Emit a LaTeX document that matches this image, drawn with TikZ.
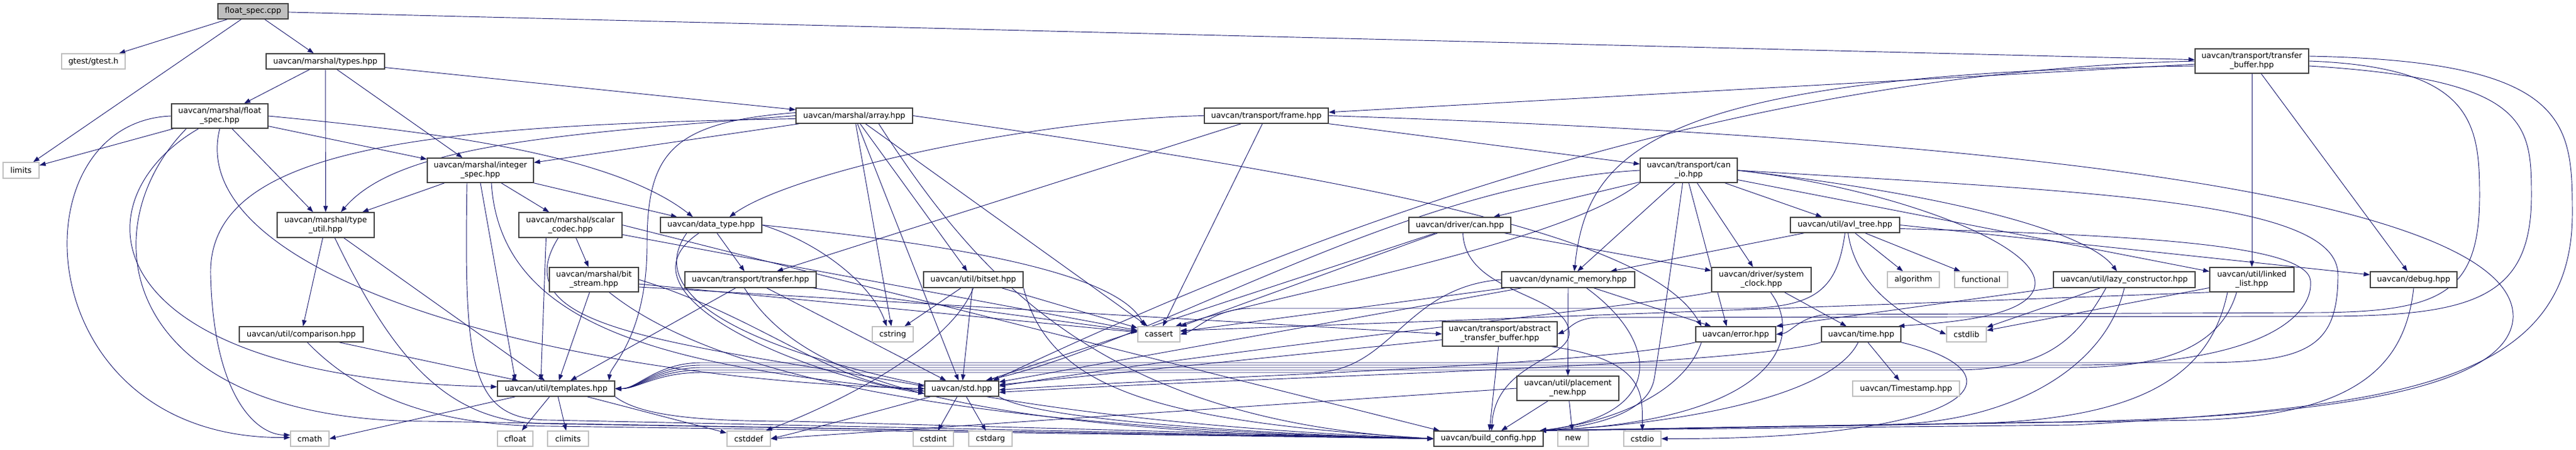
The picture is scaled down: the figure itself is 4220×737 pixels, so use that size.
\documentclass[tikz,border=0pt]{standalone}
\usepackage{fontspec}
\setmainfont{DejaVu Sans}
\usetikzlibrary{arrows.meta,calc}
\definecolor{edgec}{HTML}{191970}
\definecolor{grayb}{HTML}{BFBFBF}
\definecolor{darkb}{HTML}{404040}
\definecolor{cppfill}{HTML}{BFBFBF}
\pgfdeclarelayer{bg}
\pgfdeclarelayer{paper}
\pgfsetlayers{paper,bg,main}
\tikzset{
  nb/.style={draw=darkb,line width=1.1pt,fill=white,inner sep=0pt,align=center,font=\fontsize{9.6}{11.25}\selectfont},
  xb/.style={nb,draw=grayb},
  sz/.style 2 args={minimum width=#1*0.75pt,minimum height=#2*0.75pt},
  e/.style={draw=edgec,line width=0.7pt,line join=round,-{Triangle[length=7.5pt,width=5.5pt]}}
}
\begin{document}
\begin{tikzpicture}[x=0.75pt,y=-0.75pt]
\path[use as bounding box] (0,0) rectangle (4220,737);
\begin{pgfonlayer}{paper}
\fill[white] (0,0) rectangle (4220,737);
\end{pgfonlayer}
% nodes
\node[nb,sz={115}{25},fill=cppfill] (cpp) at (414.5,18.5) {float\_spec.cpp};
\node[xb,sz={104}{25}] (gtest) at (153,100.5) {gtest/gtest.h};
\node[nb,sz={194}{25}] (types) at (533,100.5) {uavcan/marshal/types.hpp};
\node[nb,sz={158}{40}] (fspec) at (360,190) {uavcan/marshal/float\\\_spec.hpp};
\node[xb,sz={59}{26}] (limits) at (34.5,279) {limits};
\node[nb,sz={159}{41}] (tutil) at (533.5,368.5) {uavcan/marshal/type\\\_util.hpp};
\node[nb,sz={203}{25}] (comp) at (493.5,547.5) {uavcan/util/comparison.hpp};
\node[xb,sz={63}{25}] (cmath) at (507.5,718.5) {cmath};
\node[nb,sz={174}{40}] (ispec) at (787,279) {uavcan/marshal/integer\\\_spec.hpp};
\node[nb,sz={169}{41}] (scodec) at (934.5,368.5) {uavcan/marshal/scalar\\\_codec.hpp};
\node[nb,sz={166}{25}] (dtype) at (1165,368.5) {uavcan/data\_type.hpp};
\node[nb,sz={191}{25}] (array) at (1399.5,189.5) {uavcan/marshal/array.hpp};
\node[nb,sz={146}{40}] (bstream) at (973,458) {uavcan/marshal/bit\\\_stream.hpp};
\node[nb,sz={215}{26}] (transfer) at (1229.5,458) {uavcan/transport/transfer.hpp};
\node[nb,sz={192}{25}] (templ) at (911,636.5) {uavcan/util/templates.hpp};
\node[xb,sz={58}{25}] (cfloat) at (844,718.5) {cfloat};
\node[xb,sz={67}{25}] (climits) at (930.5,718.5) {climits};
\node[xb,sz={71}{25}] (cstddef) at (1226.5,718.5) {cstddef};
\node[nb,sz={203}{25}] (frame) at (2074.5,189.5) {uavcan/transport/frame.hpp};
\node[nb,sz={163}{26}] (bitset) at (1594.5,458) {uavcan/util/bitset.hpp};
\node[xb,sz={67}{25}] (cstring) at (1462.5,547.5) {cstring};
\node[xb,sz={69}{25}] (cassert) at (1898.5,547.5) {cassert};
\node[nb,sz={121}{25}] (std) at (1575.5,636.5) {uavcan/std.hpp};
\node[xb,sz={66}{25}] (cstdint) at (1529,718.5) {cstdint};
\node[xb,sz={71}{25}] (cstdarg) at (1622.5,718.5) {cstdarg};
\node[nb,sz={159}{40}] (canio) at (2766.5,279) {uavcan/transport/can\\\_io.hpp};
\node[nb,sz={167}{25}] (drvcan) at (2391.5,368.5) {uavcan/driver/can.hpp};
\node[nb,sz={218}{26}] (dynmem) at (2569,458) {uavcan/dynamic\_memory.hpp};
\node[nb,sz={188}{40}] (abuf) at (2457,547) {uavcan/transport/abstract\\\_transfer\_buffer.hpp};
\node[nb,sz={167}{40}] (placement) at (2568.5,636) {uavcan/util/placement\\\_new.hpp};
\node[nb,sz={179}{25}] (bcfg) at (2438.5,718.5) {uavcan/build\_config.hpp};
\node[xb,sz={50}{25}] (new) at (2577,718.5) {new};
\node[xb,sz={61}{25}] (cstdio) at (2690.5,718.5) {cstdio};
\node[nb,sz={163}{40}] (sysclk) at (2885.5,458) {uavcan/driver/system\\\_clock.hpp};
\node[nb,sz={131}{25}] (error) at (2843.5,547.5) {uavcan/error.hpp};
\node[nb,sz={179}{25}] (avl) at (3022.5,368.5) {uavcan/util/avl\_tree.hpp};
\node[xb,sz={85}{26}] (algorithm) at (3134.5,458) {algorithm};
\node[xb,sz={87}{26}] (functional) at (3245.5,458) {functional};
\node[nb,sz={232}{26}] (lazy) at (3480,458) {uavcan/util/lazy\_constructor.hpp};
\node[nb,sz={130}{25}] (time) at (3049,547.5) {uavcan/time.hpp};
\node[xb,sz={65}{25}] (cstdlib) at (3221.5,547.5) {cstdlib};
\node[xb,sz={175}{25}] (ts) at (3122.5,636.5) {uavcan/Timestamp.hpp};
\node[nb,sz={186}{40}] (tbuf) at (3689,100) {uavcan/transport/transfer\\\_buffer.hpp};
\node[nb,sz={138}{40}] (llist) at (3689,458) {uavcan/util/linked\\\_list.hpp};
\node[nb,sz={142}{26}] (debug) at (3954,458) {uavcan/debug.hpp};
\coordinate (bne) at ($(bcfg.north east)+(-6,0)$);
\begin{pgfonlayer}{bg}
% float_spec.cpp
\draw[e] (cpp) -- (gtest);
\draw[e] (cpp) -- (limits);
\draw[e] (cpp) -- (types);
\draw[e] (cpp) -- (tbuf);
% types
\draw[e] (types) -- (fspec);
\draw[e] (types) -- (tutil);
\draw[e] (types) -- (ispec);
\draw[e] (types) -- (array);
% float_spec.hpp
\draw[e] (fspec) -- (limits);
\draw[e] (fspec.west) .. controls (20,200) and (40,720) .. ($(cmath.west)+(0,-2)$);
\draw[e] ($(fspec.south west)+(45,0)$) .. controls (120,330) and (150,620) .. ($(templ.west)+(0,-3)$);
\draw[e] ($(fspec.south west)+(25,0)$) .. controls (140,380) and (200,690) .. (700,690) -- (bcfg.west);
\draw[e] (fspec.south) .. controls (300,450) and (900,620) .. (std.west);
\draw[e] (fspec) -- (tutil);
\draw[e] (fspec) -- (ispec);
\draw[e] (fspec.east) .. controls (700,215) and (1000,250) .. ($(dtype.north)+(-30,0)$);
% integer_spec
\draw[e] (ispec) -- (tutil);
\draw[e] (ispec) -- (scodec);
\draw[e] (ispec) -- (dtype);
\draw[e] (ispec.south) -- ($(templ.north west)+(30,0)$);
\draw[e] ($(ispec.south)+(18,0)$) .. controls (820,540) and (1100,600) .. ($(std.west)+(0,4)$);
\draw[e] ($(ispec.south)+(-22,0)$) .. controls (760,600) and (770,688) .. (900,688) -- (bcfg.west);
% type_util
\draw[e] (tutil) -- (comp);
\draw[e] (tutil) -- (templ);
\draw[e] ($(tutil.south)+(15,0)$) .. controls (650,600) and (740,694) .. (900,694) -- (bcfg.west);
% comparison
\draw[e] (comp) -- (templ);
\draw[e] ($(comp.south)+(10,0)$) .. controls (580,640) and (700,698) .. (900,698) -- (bcfg.west);
% scalar_codec
\draw[e] (scodec) -- (bstream);
\draw[e] ($(scodec.south)+(-40,0)$) -- ($(templ.north)+(-25,0)$);
\draw[e] ($(scodec.south)+(-20,0)$) .. controls (820,540) and (1100,560) .. ($(std.west)+(0,-4)$);
\draw[e] (scodec) -- (cassert);
\draw[e] (scodec.east) -- ($(bcfg.north west)+(10,0)$);
% bit_stream
\draw[e] (bstream) -- (templ);
\draw[e] (bstream) -- (cassert);
\draw[e] ($(bstream.east)+(0,12)$) -- (abuf.west);
\draw[e] ($(bstream.south)+(25,0)$) .. controls (1150,600) and (1500,700) .. (bcfg.west);
\draw[e] (bstream.east) .. controls (1250,520) and (1380,640) .. (std.west);
% data_type
\draw[e] (dtype) -- (transfer);
\draw[e] (dtype.east) .. controls (1450,390) and (1820,430) .. ($(cassert.north west)+(12,0)$);
\draw[e] (dtype.east) .. controls (1350,400) and (1430,470) .. ($(cstring.north)+(-10,0)$);
\draw[e] ($(dtype.south)+(-20,0)$) .. controls (1000,480) and (1300,610) .. ($(std.west)+(0,8)$);
\draw[e] ($(dtype.south)+(-40,0)$) .. controls (1000,560) and (1600,690) .. (bcfg.west);
% transfer
\draw[e] (transfer) -- (templ);
\draw[e] (transfer) -- (cassert);
\draw[e] (transfer) -- (std);
\draw[e] ($(transfer.south)+(-10,0)$) .. controls (1300,600) and (1500,710) .. (bcfg.west);
% array
\draw[e] (array) -- (ispec);
\draw[e] (array.west) .. controls (900,220) and (650,240) .. ($(tutil.north)+(25,0)$);
\draw[e] ($(array.west)+(0,5)$) .. controls (700,205) and (340,240) .. (345,450) .. controls (350,650) and (420,712) .. ($(cmath.west)+(0,-6)$);
\draw[e] ($(array.west)+(0,-5)$) .. controls (1100,200) and (1060,250) .. (1060,400) .. controls (1060,550) and (1000,600) .. ($(templ.north east)+(-10,0)$);
\draw[e] (array) -- (cstring);
\draw[e] (array) -- (bitset);
\draw[e] (array) -- (std);
\draw[e] (array) -- (cassert);
\draw[e] (array.east) .. controls (2200,290) and (2700,380) .. ($(error.north west)+(10,0)$);
\draw[e] ($(array.south)+(40,0)$) .. controls (1600,450) and (1800,690) .. (bcfg.west);
% bitset
\draw[e] (bitset) -- (cstring);
\draw[e] (bitset) -- (cassert);
\draw[e] (bitset) -- (std);
\draw[e] (bitset.south) .. controls (1560,560) and (1400,650) .. ($(cstddef.north east)+(-8,0)$);
\draw[e] (bitset.south east) .. controls (1720,640) and (1900,690) .. (bcfg.west);
% templates
\draw[e] (templ) -- (cfloat);
\draw[e] (templ) -- (climits);
\draw[e] (templ) -- (cstddef);
\draw[e] ($(templ.south west)+(30,0)$) -- (cmath.east);
\draw[e] (templ.south east) .. controls (1050,682) and (1150,690) .. (1300,690) -- (bcfg.west);
% std
\draw[e] (std) -- (cstdint);
\draw[e] (std) -- (cstdarg);
\draw[e] ($(std.south west)+(10,0)$) .. controls (1450,670) and (1320,705) .. (cstddef.east);
\draw[e] (std.south east) .. controls (1700,690) and (2100,712) .. (bcfg.west);
% frame
\draw[e] (frame.west) .. controls (1700,195) and (1300,280) .. ($(dtype.north)+(30,0)$);
\draw[e] (frame) -- (transfer);
\draw[e] (frame) -- (cassert);
\draw[e] (frame) -- (canio);
\draw[e] (frame.east) .. controls (3700,240) and (4120,380) .. (4117,520) .. controls (4110,640) and (3800,688) .. (3300,692) -- (bne);
% transfer_buffer
\draw[e] (tbuf) -- (frame);
\draw[e] (tbuf) -- (llist);
\draw[e] (tbuf) -- (debug);
\draw[e] ($(tbuf.west)+(0,8)$) .. controls (2700,120) and (2600,250) .. ($(dynmem.north)+(10,0)$);
\draw[e] (tbuf.west) .. controls (2800,120) and (2100,400) .. ($(std.north east)+(-10,0)$);
\draw[e] (tbuf.east) .. controls (4050,110) and (4062,200) .. (4062,320) .. controls (4062,480) and (4000,510) .. (3800,512) -- (3000,515) .. controls (2950,515) and (2935,545) .. (error.east);
\draw[e] ($(tbuf.east)+(0,8)$) .. controls (4140,130) and (4147,200) .. (4147,320) .. controls (4147,490) and (4050,518) .. (3800,518) -- (2620,520) .. controls (2580,520) and (2570,540) .. (abuf.east);
\draw[e] ($(tbuf.east)+(0,-8)$) .. controls (4210,100) and (4214,200) .. (4214,350) .. controls (4214,640) and (3900,665) .. (3400,696) -- (bne);
% can_io
\draw[e] (canio) -- (drvcan);
\draw[e] (canio) -- (avl);
\draw[e] (canio) -- (dynmem);
\draw[e] (canio) -- (sysclk);
\draw[e] (canio.south) -- ($(error.north)+(-15,0)$);
\draw[e] (canio.east) .. controls (3120,310) and (3400,420) .. (3320,490) .. controls (3280,525) and (3160,530) .. ($(time.north east)+(-5,0)$);
\draw[e] (canio) -- (llist);
\draw[e] (canio.east) .. controls (3200,320) and (3420,380) .. ($(lazy.north)+(-12,0)$);
\draw[e] (canio.south west) .. controls (2560,400) and (2100,480) .. ($(cassert.north east)+(-8,0)$);
\draw[e] (canio.west) .. controls (2300,300) and (1900,560) .. ($(std.north east)+(-22,0)$);
\draw[e] (canio.east) .. controls (3450,315) and (3830,330) .. (3830,450) .. controls (3830,570) and (3780,594) .. (3600,594) -- (1150,594) .. controls (1075,594) and (1045,637) .. (templ.east);
\draw[e] ($(canio.south)+(-10,0)$) .. controls (2740,420) and (2720,560) .. (2710,620) .. controls (2700,680) and (2600,700) .. (bne);
% driver/can
\draw[e] (drvcan) -- (sysclk);
\draw[e] (drvcan) -- (cassert);
\draw[e] (drvcan) -- (std);
\draw[e] ($(drvcan.south)+(5,0)$) .. controls (2400,480) and (2560,480) .. (2570,540) .. controls (2580,590) and (2450,590) .. ($(bcfg.north)+(5,0)$);
% system_clock
\draw[e] (sysclk) -- (time);
\draw[e] (sysclk.south west) .. controls (2700,500) and (2100,560) .. ($(std.east)+(0,-4)$);
\draw[e] ($(sysclk.south)+(15,0)$) .. controls (2960,560) and (2900,690) .. (bne);
% time
\draw[e] (time) -- (ts);
\draw[e] (time.south west) .. controls (2850,600) and (2100,615) .. ($(std.east)+(0,6)$);
\draw[e] ($(time.south)+(-5,0)$) .. controls (3000,650) and (2750,695) .. (bne);
\draw[e] (time.south east) .. controls (3320,610) and (3250,720) .. (cstdio.east);
% avl_tree
\draw[e] (avl) -- (algorithm);
\draw[e] (avl) -- (functional);
\draw[e] ($(avl.south)+(5,0)$) .. controls (3040,470) and (3120,520) .. (cstdlib.west);
\draw[e] (avl) -- (dynmem);
\draw[e] (avl.east) -- ($(debug.west)+(0,-8)$);
\draw[e] (avl.south) .. controls (3010,470) and (2980,505) .. (2850,505) -- (2050,505) .. controls (1990,505) and (1960,540) .. (cassert.east);
\draw[e] ($(avl.east)+(0,6)$) .. controls (3500,385) and (3780,400) .. (3785,460) .. controls (3790,520) and (3700,598) .. (3400,598) -- (1150,598) .. controls (1075,598) and (1045,637) .. (templ.east);
% dynamic_memory
\draw[e] (dynmem) -- (placement);
\draw[e] (dynmem) -- (std);
\draw[e] (dynmem) -- (error);
\draw[e] (dynmem) -- (cassert);
\draw[e] ($(dynmem.south)+(30,0)$) .. controls (2720,560) and (2730,680) .. (bne);
\draw[e] (dynmem.west) .. controls (2300,470) and (2280,610) .. (2150,610) -- (1150,610) .. controls (1075,610) and (1045,637) .. (templ.east);
% placement_new
\draw[e] (placement) -- (new);
\draw[e] (placement) -- (bcfg);
\draw[e] (placement.west) -- (cstddef.east);
% abstract_transfer_buffer
\draw[e] (abuf) -- (std);
\draw[e] (abuf) -- (bcfg);
\draw[e] ($(abuf.south east)+(-10,0)$) .. controls (2700,590) and (2690,650) .. (cstdio.north);
% error
\draw[e] (error.south west) .. controls (2600,600) and (2000,615) .. ($(std.east)+(0,2)$);
\draw[e] ($(error.south west)+(10,0)$) .. controls (2760,640) and (2650,690) .. (bne);
% lazy_constructor
\draw[e] (lazy) -- (cstdlib);
\draw[e] (lazy.south west) -- (error.north east);
\draw[e] ($(lazy.south)+(-30,0)$) .. controls (3400,560) and (3350,606) .. (3200,606) -- (1150,606) .. controls (1075,606) and (1045,637) .. (templ.east);
\draw[e] (lazy.south) .. controls (3450,600) and (3300,690) .. (3100,695) -- (bne);
% linked_list
\draw[e] (llist) -- (cstdlib);
\draw[e] (llist.south west) -- ($(cassert.east)+(0,-6)$);
\draw[e] ($(llist.south)+(-25,0)$) .. controls (3640,560) and (3560,602) .. (3400,602) -- (1150,602) .. controls (1075,602) and (1045,637) .. (templ.east);
\draw[e] ($(llist.south)+(-40,0)$) .. controls (3620,620) and (3500,692) .. (3200,694) -- (bne);
% debug
\draw[e] (debug.south) .. controls (3940,600) and (3860,680) .. (3600,688) -- (bne);
\end{pgfonlayer}
\end{tikzpicture}
\end{document}
